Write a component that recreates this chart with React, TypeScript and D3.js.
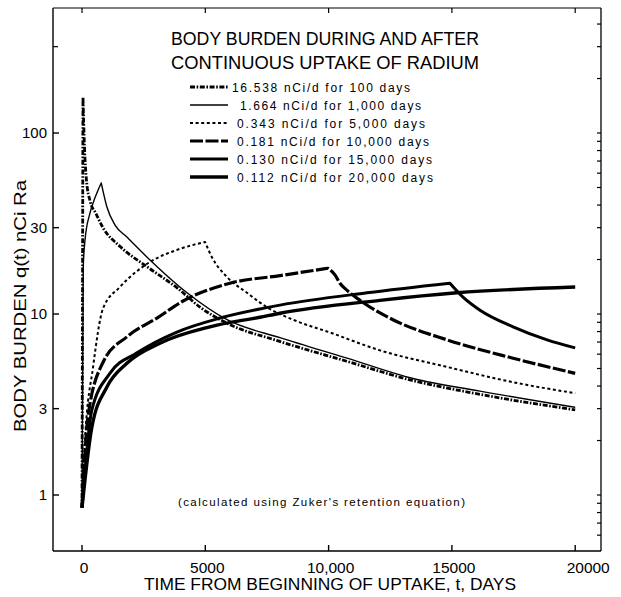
import React from "react";
import * as d3 from "d3";

const W = 621;
const H = 597;

// ---- data ----
const legendLabels = [
  "16.538 nCi/d for 100 days",
  "1.664 nCi/d for 1,000 days",
  "0.343 nCi/d for 5,000 days",
  "0.181 nCi/d for 10,000 days",
  "0.130 nCi/d for 15,000 days",
  "0.112 nCi/d for 20,000 days",
];

// days of uptake (where each curve peaks)
const uptakeDays = [40, 780, 4990, 9975, 14920, 20000];

const daysA = [0, 40, 100, 180, 330, 560, 850, 1560, 2650, 3870, 4790, 5880, 7960, 10700, 13380, 16140, 20000];
const valsA = [0.85, 158, 84, 55, 42, 36, 30, 23.5, 18.2, 13.9, 10.9, 8.9, 7.1, 5.5, 4.3, 3.6, 2.95];

const daysB = [0, 50, 120, 320, 530, 780, 1010, 1340, 1820, 2640, 4260, 5880, 8030, 10750, 13420, 16140, 20000];
const valsB = [0.85, 18, 25.5, 36, 44, 53, 39, 31, 26.6, 20.6, 13.1, 9.3, 7.4, 5.7, 4.4, 3.75, 3.05];

const daysC = [0, 120, 450, 850, 1540, 2760, 3850, 4990, 5270, 5880, 6690, 7500, 8560, 10060, 12080, 14800, 17480, 20000];
const valsC = [0.85, 2.0, 5.1, 10.7, 14.1, 19.4, 22.6, 25, 20.6, 16, 13.1, 10.9, 9.3, 7.9, 6.3, 5.1, 4.2, 3.65];

const daysD = [0, 240, 850, 1830, 3040, 4100, 6000, 8030, 9975, 10250, 10460, 10750, 11270, 12610, 14800, 17480, 20000];
const valsD = [0.85, 2.7, 5.4, 7.5, 9.5, 11.8, 14.8, 16.3, 17.9, 16.5, 14.8, 13.5, 11.9, 9.3, 7.2, 5.7, 4.7];

const daysE = [0, 400, 1130, 2230, 3850, 5600, 8030, 11560, 14920, 15450, 16140, 17480, 18860, 20000];
const valsE = [0.85, 2.95, 4.7, 6.1, 7.95, 9.5, 11.2, 13.1, 14.8, 12.4, 10.5, 8.5, 7.2, 6.5];

const daysF = [0, 400, 1010, 1830, 3160, 5190, 7220, 8030, 12080, 15200, 20000];
const valsF = [0.85, 2.37, 3.95, 5.36, 6.9, 8.5, 9.6, 10.1, 11.9, 13.1, 14.1];

const xTicks = [0, 5000, 10000, 15000, 20000];
const xTickLabels = ["0", "5000", "10,000", "15000", "20000"];
const yTicks = [1, 3, 10, 30, 100];
const yTickLabels = ["1", "3", "10", "30", "100"];

// ---- styles ----
const styles = [
  { width: 2.8, dash: "5,1.6,1.6,1.6" },
  { width: 1.4, dash: "" },
  { width: 2.0, dash: "3,2.6" },
  { width: 3.2, dash: "13,2.5" },
  { width: 3.0, dash: "" },
  { width: 3.4, dash: "" },
];

const FONT = "'Liberation Sans', Arial, Helvetica, sans-serif";

export default function App() {
  const left = 53, right = 601, top = 8, bottom = 551;
  const x = d3.scaleLinear().domain([-1176, 21046]).range([left, right]);
  const y = d3.scaleLog().domain([0.4905, 490.6]).range([bottom, top]);

  const allDays = [daysA, daysB, daysC, daysD, daysE, daysF];
  const allVals = [valsA, valsB, valsC, valsD, valsE, valsF];

  const line = d3
    .line<[number, number]>()
    .x((d) => x(d[0]))
    .y((d) => y(d[1]))
    .curve(d3.curveMonotoneX);

  const paths = allDays.map((days, i) => {
    const pts: [number, number][] = days.map((t, j) => [t, allVals[i][j]]);
    const peak = uptakeDays[i];
    const rise = pts.filter((p) => p[0] <= peak);
    const fall = pts.filter((p) => p[0] >= peak);
    let d = line(rise) || "";
    if (fall.length > 1) d += (line(fall) || "").replace(/^M/, "L");
    return d;
  });

  // minor log ticks for right frame
  const minor: number[] = [];
  for (let e = -1; e <= 2; e++) {
    for (let m = 1; m <= 9; m++) {
      const v = m * Math.pow(10, e);
      if (v > 0.5 && v < 480) minor.push(v);
    }
  }

  const legendY0 = 87;
  const legendDy = 18;
  const textStarts = [232, 240, 237, 237, 237, 237];
  const textEnds = [410, 421, 425, 429, 432, 433];

  return (
    <svg
      width={W}
      height={H}
      style={{ position: "absolute", left: 0, top: 0, background: "#fff" }}
      fontFamily={FONT}
    >
      <rect x={0} y={0} width={W} height={H} fill="#fff" />
      {/* frame */}
      <line x1={left} y1={top} x2={left} y2={bottom} stroke="#000" strokeWidth={1.4} />
      <line x1={left} y1={bottom} x2={right} y2={bottom} stroke="#000" strokeWidth={1.4} />
      <line x1={left} y1={top} x2={right} y2={top} stroke="#000" strokeWidth={1.2} />
      <line x1={right} y1={top} x2={right} y2={bottom} stroke="#000" strokeWidth={1.3} />
      {/* x ticks bottom and top */}
      {xTicks.map((t, i) => (
        <g key={"xt" + i}>
          <line x1={x(t)} x2={x(t)} y1={bottom} y2={bottom - 6} stroke="#000" strokeWidth={1.4} />
          <line x1={x(t)} x2={x(t)} y1={top} y2={top + 5} stroke="#000" strokeWidth={1.2} />
          <text
            x={x(t) + (i === xTicks.length - 1 ? 13 : 2)}
            y={573}
            textAnchor="middle"
            fontSize={15.5}
          >
            {xTickLabels[i]}
          </text>
        </g>
      ))}
      {/* y ticks left */}
      {yTicks.map((v, i) => (
        <g key={"yt" + i}>
          <line x1={left} x2={left + 6} y1={y(v)} y2={y(v)} stroke="#000" strokeWidth={1.4} />
          <text x={47} y={y(v) + 5} textAnchor="end" fontSize={15}>
            {yTickLabels[i]}
          </text>
        </g>
      ))}
      <line x1={left} x2={left + 5} y1={y(300)} y2={y(300)} stroke="#000" strokeWidth={1.2} />
      {/* right minor ticks */}
      {minor.map((v, i) => (
        <line key={"m" + i} x1={right} x2={right - 4} y1={y(v)} y2={y(v)} stroke="#000" strokeWidth={1.2} />
      ))}

      {/* curves */}
      {paths.map((d, i) => (
        <path
          key={"p" + i}
          d={d}
          fill="none"
          stroke="#000"
          strokeWidth={styles[i].width}
          strokeDasharray={styles[i].dash || undefined}
          strokeLinejoin="round"
        />
      ))}

      {/* title */}
      <text x={325} y={45} textAnchor="middle" fontSize={17.5} textLength={308} lengthAdjust="spacingAndGlyphs">
        BODY BURDEN DURING AND AFTER
      </text>
      <text x={325} y={69} textAnchor="middle" fontSize={17.5} textLength={308} lengthAdjust="spacingAndGlyphs">
        CONTINUOUS UPTAKE OF RADIUM
      </text>

      {/* legend */}
      {legendLabels.map((lab, i) => {
        const ly = legendY0 + i * legendDy;
        return (
          <g key={"lg" + i}>
            <line
              x1={190}
              x2={228}
              y1={ly}
              y2={ly}
              stroke="#000"
              strokeWidth={styles[i].width}
              strokeDasharray={styles[i].dash || undefined}
            />
            <text
              x={textStarts[i]}
              y={ly + 4.5}
              fontSize={12}
              textLength={textEnds[i] - textStarts[i]}
              lengthAdjust="spacing"
            >
              {lab}
            </text>
          </g>
        );
      })}

      {/* annotation */}
      <text x={178} y={506} fontSize={11.5} textLength={287} lengthAdjust="spacing">
        (calculated using Zuker's retention equation)
      </text>

      {/* axis titles */}
      <text x={330} y={590} textAnchor="middle" fontSize={17} textLength={372} lengthAdjust="spacingAndGlyphs">
        TIME FROM BEGINNING OF UPTAKE, t, DAYS
      </text>
      <text
        transform={`translate(26,306) rotate(-90)`}
        textAnchor="middle"
        fontSize={16}
        textLength={252}
        lengthAdjust="spacingAndGlyphs"
      >
        BODY BURDEN  q(t) nCi Ra
      </text>
    </svg>
  );
}
